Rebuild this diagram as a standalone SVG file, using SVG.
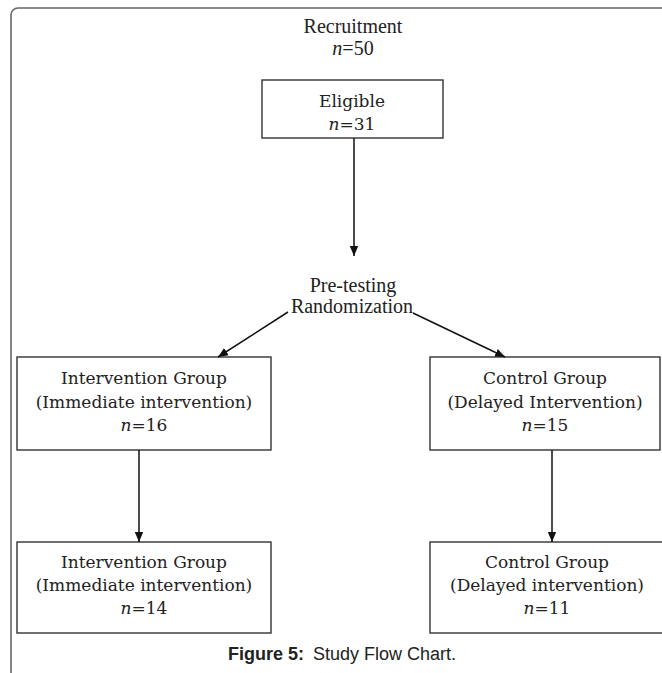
<svg xmlns="http://www.w3.org/2000/svg" width="662" height="673" viewBox="0 0 662 673">
<defs>
<marker id="ah" markerWidth="10" markerHeight="10" refX="10" refY="5" orient="auto" markerUnits="userSpaceOnUse">
<path d="M0,0.8 L10,5 L0,9.2 Z" fill="#111"/>
</marker>
<style>
.frame{fill:none;stroke:#666;stroke-width:1.6}
.box{fill:#fff;stroke:#333;stroke-width:1.4}
.tm{font-family:"Liberation Serif","Times New Roman",serif;font-size:20px;fill:#222;text-anchor:middle}
.bx{font-family:"DejaVu Serif",serif;font-size:17px;fill:#222;text-anchor:middle}
.it{font-style:italic}
.cap{font-family:"Liberation Sans",Arial,sans-serif;font-size:18px;fill:#222;text-anchor:middle}
.conn line{stroke:#111;stroke-width:1.5;marker-end:url(#ah)}
</style>
</defs>
<rect width="662" height="673" fill="#fff"/>
<rect class="frame" x="11" y="8" width="670" height="690" rx="7" ry="7"/>

<g id="recruitment">
<text class="tm" x="353" y="33">Recruitment</text>
<text class="tm" x="353" y="55"><tspan class="it">n</tspan>=50</text>
</g>

<g id="eligible">
<rect class="box" x="262" y="80" width="181" height="58"/>
<text class="bx" x="352" y="107">Eligible</text>
<text class="bx" x="352" y="130"><tspan class="it">n</tspan>=31</text>
</g>

<g id="randomization">
<text class="tm" x="353" y="292">Pre-testing</text>
<text class="tm" x="352" y="313">Randomization</text>
</g>

<g id="intervention1">
<rect class="box" x="17" y="357" width="254" height="93"/>
<text class="bx" x="144" y="384">Intervention Group</text>
<text class="bx" x="144" y="408">(Immediate intervention)</text>
<text class="bx" x="144" y="431"><tspan class="it">n</tspan>=16</text>
</g>

<g id="control1">
<rect class="box" x="430" y="357" width="230" height="93"/>
<text class="bx" x="545" y="384">Control Group</text>
<text class="bx" x="545" y="408">(Delayed Intervention)</text>
<text class="bx" x="545" y="431"><tspan class="it">n</tspan>=15</text>
</g>

<g id="intervention2">
<rect class="box" x="17" y="542" width="254" height="91"/>
<text class="bx" x="144" y="568">Intervention Group</text>
<text class="bx" x="144" y="591">(Immediate intervention)</text>
<text class="bx" x="144" y="614"><tspan class="it">n</tspan>=14</text>
</g>

<g id="control2">
<rect class="box" x="430" y="542" width="234" height="91"/>
<text class="bx" x="547" y="568">Control Group</text>
<text class="bx" x="547" y="591">(Delayed intervention)</text>
<text class="bx" x="547" y="614"><tspan class="it">n</tspan>=11</text>
</g>

<g id="connectors" class="conn">
<line x1="354" y1="138" x2="354" y2="256"/>
<line x1="288" y1="312" x2="218" y2="357"/>
<line x1="413" y1="313" x2="505" y2="357"/>
<line x1="139" y1="450" x2="139" y2="542"/>
<line x1="552" y1="450" x2="552" y2="542"/>
</g>

<g id="caption">
<text class="cap" x="342" y="660"><tspan font-weight="bold">Figure 5:</tspan><tspan dx="9">Study Flow Chart.</tspan></text>
</g>
</svg>
